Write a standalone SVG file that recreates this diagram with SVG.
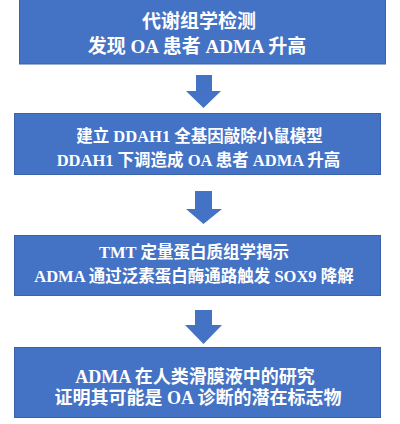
<svg xmlns="http://www.w3.org/2000/svg" width="400" height="424" viewBox="0 0 400 424">
<style>
.box{fill:#4472C4;stroke:#3A62AA;stroke-width:1}
.t{fill:#ffffff;font-family:"Liberation Serif","Noto Sans CJK SC",serif;font-weight:bold;text-anchor:middle}
.arr{fill:#4472C4}
</style>
<rect x="0" y="0" width="400" height="424" fill="#ffffff"/>
<g id="connectors">
<polygon class="arr" points="196,75 212,75 212,91 221,91 203.5,108 186,91 196,91"/>
<polygon class="arr" points="195,191 212,191 212,209 222,209 203.5,224 186,209 195,209"/>
<polygon class="arr" points="195,310 212,310 212,325 222,325 203.5,344 185,325 195,325"/>
</g>
<g id="node1">
<rect class="box" x="19.5" y="-1" width="366" height="65"/>
<text class="t" x="199" y="28" font-size="19">代谢组学检测</text>
<text class="t" x="197" y="53" font-size="19">发现 OA 患者 ADMA 升高</text>
</g>
<g id="node2">
<rect class="box" x="14.5" y="113.5" width="366" height="61"/>
<text class="t" x="199.5" y="142" font-size="16.5">建立 DDAH1 全基因敲除小鼠模型</text>
<text class="t" x="198.5" y="166" font-size="16.5">DDAH1 下调造成 OA 患者 ADMA 升高</text>
</g>
<g id="node3">
<rect class="box" x="14.5" y="235.5" width="366" height="60"/>
<text class="t" x="194" y="258" font-size="16.5">TMT 定量蛋白质组学揭示</text>
<text class="t" x="194" y="282" font-size="16.5">ADMA 通过泛素蛋白酶通路触发 SOX9 降解</text>
</g>
<g id="node4">
<rect class="box" x="14.5" y="347.5" width="366" height="70"/>
<text class="t" x="195" y="383" font-size="18">ADMA 在人类滑膜液中的研究</text>
<text class="t" x="198" y="404" font-size="18">证明其可能是 OA 诊断的潜在标志物</text>
</g>
</svg>
